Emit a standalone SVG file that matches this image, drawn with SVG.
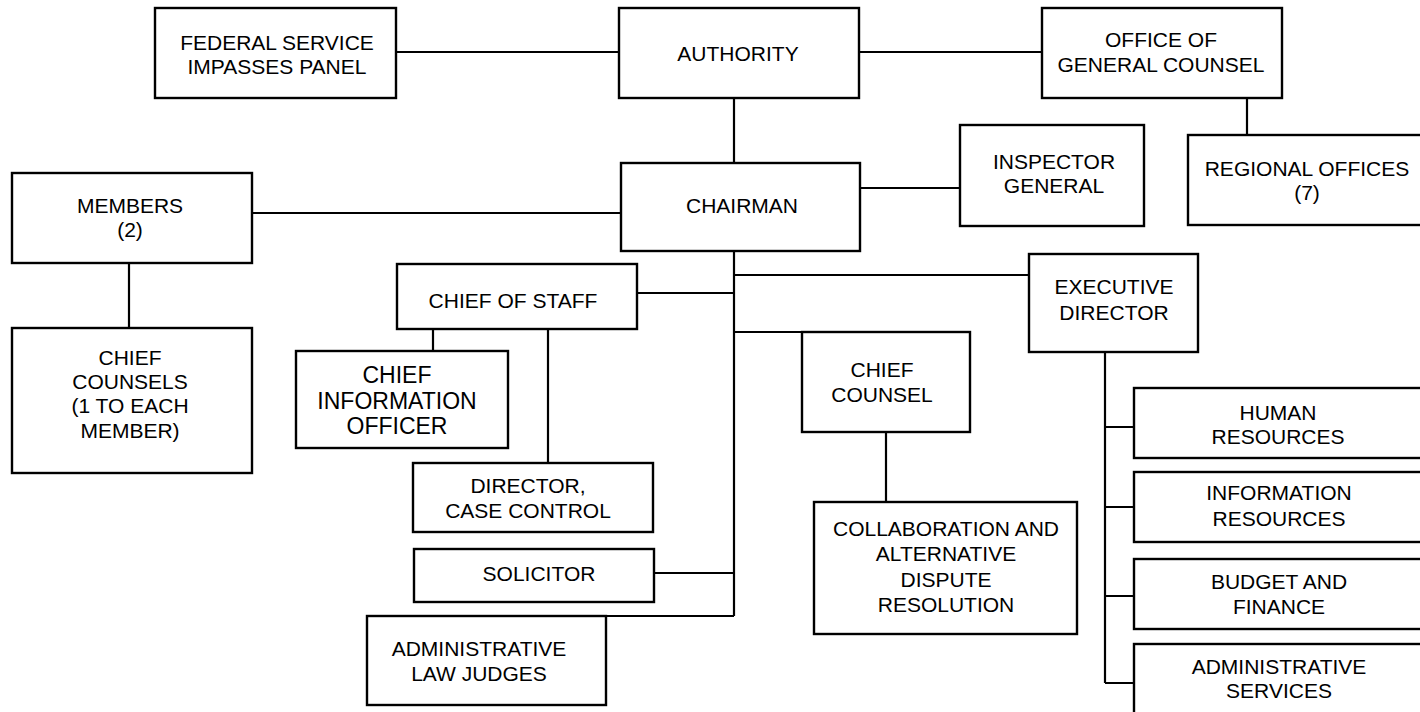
<svg xmlns="http://www.w3.org/2000/svg" width="1420" height="712" viewBox="0 0 1420 712">
<style>
.box{fill:#fff;stroke:#000;stroke-width:2.4}
.ln{fill:none;stroke:#000;stroke-width:2.2}
text{font-family:"Liberation Sans",Arial,sans-serif;font-size:21px;fill:#000;text-anchor:middle}
.big{font-size:23px}
</style>
<rect width="1420" height="712" fill="#fff"/>
<g id="connectors">
<path class="ln" d="M396 52H619M859 52H1042M734 98V163M1247 98V135M252 213H621M129 263V328M860 188H960"/>
<path class="ln" d="M734 251V616M734 275H1029M637 293H734M734 332H802M654 573H734M606 616H734"/>
<path class="ln" d="M433 329V351M548 329V463M886 432V502"/>
<path class="ln" d="M1105 352V683M1105 427H1134M1105 507H1134M1105 596H1134M1105 683H1134"/>
</g>
<g id="fsip"><rect class="box" x="155" y="8" width="241" height="90"/><text x="277" y="50">FEDERAL SERVICE</text><text x="277" y="74">IMPASSES PANEL</text></g>
<g id="authority"><rect class="box" x="619" y="8" width="240" height="90"/><text x="738" y="61">AUTHORITY</text></g>
<g id="ogc"><rect class="box" x="1042" y="8" width="240" height="90"/><text x="1161" y="47">OFFICE OF</text><text x="1161" y="72">GENERAL COUNSEL</text></g>
<g id="members"><rect class="box" x="12" y="173" width="240" height="90"/><text x="130" y="213">MEMBERS</text><text x="130" y="237">(2)</text></g>
<g id="chairman"><rect class="box" x="621" y="163" width="239" height="88"/><text x="742" y="213">CHAIRMAN</text></g>
<g id="ig"><rect class="box" x="960" y="125" width="184" height="101"/><text x="1054" y="169">INSPECTOR</text><text x="1054" y="193">GENERAL</text></g>
<g id="regional"><rect class="box" x="1188" y="135" width="240" height="90"/><text x="1307" y="176">REGIONAL OFFICES</text><text x="1307" y="200">(7)</text></g>
<g id="chiefcounsels"><rect class="box" x="12" y="328" width="240" height="145"/><text x="130" y="365">CHIEF</text><text x="130" y="389">COUNSELS</text><text x="130" y="413">(1 TO EACH</text><text x="130" y="438">MEMBER)</text></g>
<g id="cos"><rect class="box" x="397" y="264" width="240" height="65"/><text x="513" y="308">CHIEF OF STAFF</text></g>
<g id="cio"><rect class="box" x="296" y="351" width="212" height="97"/><text class="big" x="397" y="383">CHIEF</text><text class="big" x="397" y="409">INFORMATION</text><text class="big" x="397" y="434">OFFICER</text></g>
<g id="director"><rect class="box" x="413" y="463" width="240" height="69"/><text x="528" y="493">DIRECTOR,</text><text x="528" y="518">CASE CONTROL</text></g>
<g id="solicitor"><rect class="box" x="414" y="549" width="240" height="53"/><text x="539" y="581">SOLICITOR</text></g>
<g id="alj"><rect class="box" x="367" y="616" width="239" height="89"/><text x="479" y="656">ADMINISTRATIVE</text><text x="479" y="681">LAW JUDGES</text></g>
<g id="chiefcounsel"><rect class="box" x="802" y="332" width="168" height="100"/><text x="882" y="377">CHIEF</text><text x="882" y="402">COUNSEL</text></g>
<g id="collab"><rect class="box" x="814" y="502" width="263" height="132"/><text x="946" y="536">COLLABORATION AND</text><text x="946" y="561">ALTERNATIVE</text><text x="946" y="587">DISPUTE</text><text x="946" y="612">RESOLUTION</text></g>
<g id="ed"><rect class="box" x="1029" y="254" width="169" height="98"/><text x="1114" y="294">EXECUTIVE</text><text x="1114" y="320">DIRECTOR</text></g>
<g id="hr"><rect class="box" x="1134" y="388" width="288" height="70"/><text x="1278" y="420">HUMAN</text><text x="1278" y="444">RESOURCES</text></g>
<g id="ir"><rect class="box" x="1134" y="472" width="288" height="70"/><text x="1279" y="500">INFORMATION</text><text x="1279" y="526">RESOURCES</text></g>
<g id="bf"><rect class="box" x="1134" y="559" width="288" height="70"/><text x="1279" y="589">BUDGET AND</text><text x="1279" y="614">FINANCE</text></g>
<g id="as"><rect class="box" x="1134" y="644" width="288" height="72"/><text x="1279" y="674">ADMINISTRATIVE</text><text x="1279" y="698">SERVICES</text></g>
</svg>
